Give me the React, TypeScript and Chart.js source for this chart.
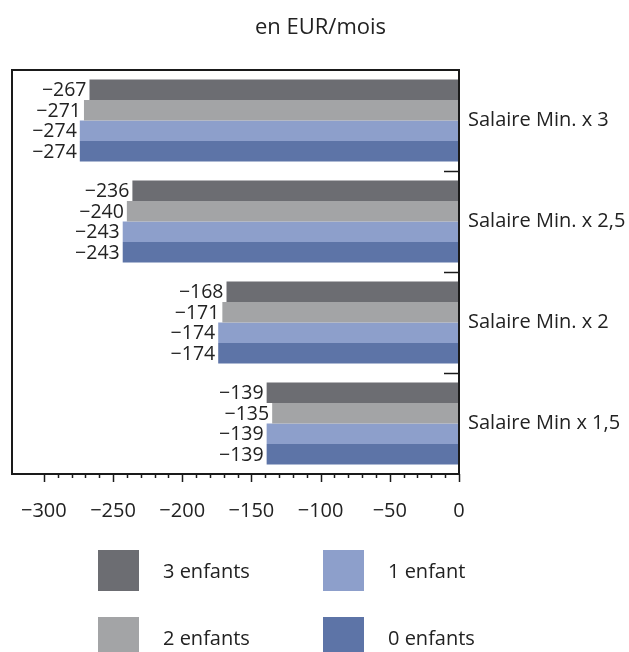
import React, { useEffect, useRef } from "react";
import { Chart, registerables } from "chart.js";

Chart.register(...registerables);

const categories = ["Salaire Min. x 3", "Salaire Min. x 2,5", "Salaire Min. x 2", "Salaire Min x 1,5"];
const seriesNames = ["3 enfants", "2 enfants", "1 enfant", "0 enfants"];
const enfants3 = [-267, -236, -168, -139];
const enfants2 = [-271, -240, -171, -135];
const enfant1 = [-274, -243, -174, -139];
const enfants0 = [-274, -243, -174, -139];
const seriesColors = ["#6c6d72", "#a3a4a6", "#8d9fcb", "#5d74a7"];
const xTickValues = [-300, -290, -280, -270, -260, -250, -240, -230, -220, -210, -200, -190, -180, -170, -160, -150, -140, -130, -120, -110, -100, -90, -80, -70, -60, -50, -40, -30, -20, -10, 0];
const titleText = "en EUR/mois";

const FONT = "'Open Sans', 'Noto Sans', sans-serif";
const TEXT = "#222222";

const fmt = (v: number) => (v < 0 ? "\u2212" + Math.abs(v) : String(v));

const decorPlugin = {
  id: "decor",
  afterDatasetsDraw(chart: any) {
    const ctx = chart.ctx;
    const area = chart.chartArea;
    ctx.save();
    // data labels
    ctx.font = `19.5px ${FONT}`;
    ctx.fillStyle = TEXT;
    ctx.textAlign = "right";
    ctx.textBaseline = "middle";
    chart.data.datasets.forEach((ds: any, di: number) => {
      const meta = chart.getDatasetMeta(di);
      meta.data.forEach((el: any, i: number) => {
        ctx.fillText(fmt(ds.data[i]), el.x - 3, el.y + 1);
      });
    });
    // box
    ctx.strokeStyle = "#1a1a1a";
    ctx.lineWidth = 2;
    ctx.strokeRect(area.left, area.top, area.right - area.left, area.bottom - area.top);
    // x ticks
    const xs = chart.scales.x;
    ctx.lineWidth = 1.5;
    xs.ticks.forEach((t: any) => {
      const px = Math.round(xs.getPixelForValue(t.value)) + 0.5;
      const len = t.value % 50 === 0 ? 8 : 4;
      ctx.beginPath();
      ctx.moveTo(px, area.bottom);
      ctx.lineTo(px, area.bottom + len);
      ctx.stroke();
    });
    // y inner ticks at category boundaries
    const ys = chart.scales.y;
    ctx.lineWidth = 1.5;
    for (let i = 0; i < categories.length - 1; i++) {
      const py = Math.round((ys.getPixelForValue(i) + ys.getPixelForValue(i + 1)) / 2) + 0.5;
      ctx.beginPath();
      ctx.moveTo(area.right - 15, py);
      ctx.lineTo(area.right, py);
      ctx.stroke();
    }
    ctx.restore();
  },
};

export default function App() {
  const ref = useRef<HTMLCanvasElement | null>(null);
  useEffect(() => {
    if (!ref.current) return;
    const data = [enfants3, enfants2, enfant1, enfants0];
    const chart = new Chart(ref.current, {
      type: "bar",
      data: {
        labels: categories,
        datasets: seriesNames.map((n, i) => ({
          label: n,
          data: data[i],
          backgroundColor: seriesColors[i],
          borderWidth: 0,
          categoryPercentage: 0.81,
          barPercentage: 1,
        })),
      },
      options: {
        indexAxis: "y",
        animation: false,
        responsive: false,
        devicePixelRatio: 1,
        layout: { padding: { left: 12, right: 0, top: 0, bottom: 0 } },
        plugins: {
          legend: { display: false },
          tooltip: { enabled: false },
          title: {
            display: true,
            text: titleText,
            color: TEXT,
            font: { family: FONT, size: 22, weight: "normal", lineHeight: 1.2 },
            padding: { top: 15, bottom: 28.6 },
          },
        },
        scales: {
          x: {
            type: "linear",
            position: "bottom",
            min: -323,
            max: 0,
            afterBuildTicks: (s: any) => {
              s.ticks = xTickValues.map((v) => ({ value: v }));
            },
            afterFit: (s: any) => {
              s.height = 178;
              s.paddingLeft = 0;
              s.paddingRight = 0;
            },
            border: { display: false },
            grid: { display: false, drawTicks: false },
            ticks: {
              autoSkip: false,
              maxRotation: 0,
              padding: 25,
              color: TEXT,
              font: { family: FONT, size: 20 },
              callback: (v: any) => (Number(v) % 50 === 0 ? fmt(Number(v)) : ""),
            },
          },
          y: {
            type: "category",
            position: "right",
            offset: true,
            afterFit: (s: any) => {
              s.width = 170;
              s.paddingTop = 0;
              s.paddingBottom = 0;
            },
            border: { display: false },
            grid: { display: false, drawTicks: false },
            ticks: {
              padding: 9,
              color: TEXT,
              font: { family: FONT, size: 20 },
            },
          },
        },
      },
      plugins: [decorPlugin],
    });
    return () => chart.destroy();
  }, []);

  const legendItem = (i: number, left: number, top: number) => (
    <div key={i}>
      <div
        style={{ position: "absolute", left, top, width: 41, height: 41, background: seriesColors[i] }}
      />
      <div
        style={{
          position: "absolute",
          left: left + 65,
          top,
          height: 41,
          fontFamily: FONT,
          fontSize: 20,
          lineHeight: "41px",
          color: TEXT,
          whiteSpace: "nowrap",
        }}
      >
        {seriesNames[i]}
      </div>
    </div>
  );

  return (
    <div style={{ position: "absolute", left: 0, top: 0, width: 629, height: 652, background: "#fff", overflow: "hidden" }}>
      <canvas ref={ref} width={629} height={652} style={{ position: "absolute", left: 0, top: 0, width: 629, height: 652 }} />
      {legendItem(0, 98, 550)}
      {legendItem(2, 323, 550)}
      {legendItem(1, 98, 617)}
      {legendItem(3, 323, 617)}
    </div>
  );
}
